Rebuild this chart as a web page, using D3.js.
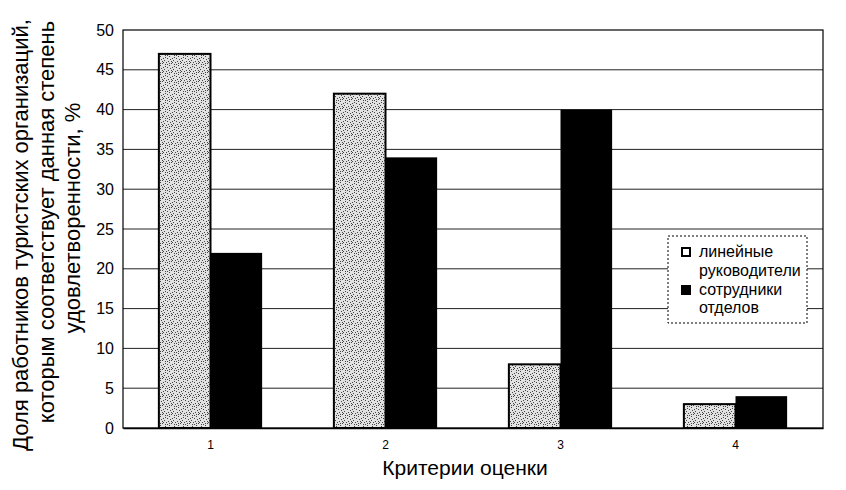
<!DOCTYPE html>
<html><head><meta charset="utf-8">
<script src="https://cdn.jsdelivr.net/npm/d3@7"></script>
<style>body{margin:0;background:#fff}svg{display:block}text{font-family:"Liberation Sans",Arial,sans-serif}</style>
</head><body>
<svg id="c" width="846" height="490"></svg>
<script>
const categories = ["1","2","3","4"];
const seriesNames = ["линейные руководители","сотрудники отделов"];
const managers = [47, 42, 8, 3];
const staff = [22, 34, 40, 4];
const yTicks = [0,5,10,15,20,25,30,35,40,45,50];
const yTitle = ["Доля работников туристских организаций,","которым соответствует данная степень","удовлетворенности, %"];
const xTitle = "Критерии оценки";

const svg = d3.select("#c");
const L=123, R=823, T=30, B=428;
const defs = svg.append("defs");
const pat = defs.append("pattern").attr("id","speck").attr("width",9).attr("height",9).attr("patternUnits","userSpaceOnUse");
pat.append("rect").attr("width",9).attr("height",9).attr("fill","#e2e2e2");
[[0,0],[3,1],[7,2],[1,4],[5,4],[2,6],[6,7],[8,5],[4,8],[0,7],[7,0],[3,3],[5,1],[1,8]].forEach(([x,y])=>pat.append("rect").attr("x",x).attr("y",y).attr("width",1).attr("height",1).attr("fill","#444"));

const x0 = d3.scaleBand().domain(categories).range([L,R]).paddingInner(0.41).paddingOuter(0.205);
const x1 = d3.scaleBand().domain([0,1]).range([0,x0.bandwidth()]);
const y = d3.scaleLinear().domain([0,50]).range([B,T]);

// gridlines
svg.append("g").selectAll("line").data(yTicks.filter(d=>d>0 && d<50)).join("line")
  .attr("x1",L).attr("x2",R).attr("y1",d=>y(d)).attr("y2",d=>y(d)).attr("stroke","#222").attr("stroke-width",1);
// frame
svg.append("rect").attr("x",L).attr("y",T).attr("width",R-L).attr("height",B-T).attr("fill","none").attr("stroke","#000").attr("stroke-width",1.2);

const g = svg.append("g");
categories.forEach((c,i)=>{
  g.append("rect").attr("x",x0(c)+x1(0)).attr("y",y(managers[i])).attr("width",x1.bandwidth()).attr("height",y(0)-y(managers[i]))
    .attr("fill","url(#speck)").attr("stroke","#000").attr("stroke-width",2);
  g.append("rect").attr("x",x0(c)+x1(1)).attr("y",y(staff[i])).attr("width",x1.bandwidth()).attr("height",y(0)-y(staff[i]))
    .attr("fill","#000");
});

// y axis
const ya = svg.append("g").attr("transform",`translate(${L},0)`).call(d3.axisLeft(y).tickValues(yTicks).tickSize(0).tickPadding(9));
ya.select(".domain").remove();
ya.selectAll("text").attr("font-size",16).attr("fill","#000");
// x axis
const xa = svg.append("g").attr("transform",`translate(0,${B})`).call(d3.axisBottom(x0).tickSize(0).tickPadding(12));
xa.select(".domain").attr("stroke","#000").attr("stroke-width",1.5);
xa.selectAll("text").attr("font-size",12).attr("fill","#000");

svg.append("text").attr("x",465).attr("y",475).attr("text-anchor","middle").attr("font-size",21).text(xTitle);
const yc = [235, 222, 218];
yTitle.forEach((t,i)=>{
  svg.append("text").attr("transform",`translate(${28+i*26},${yc[i]}) rotate(-90)`).attr("text-anchor","middle").attr("font-size",22).text(t);
});

// legend
const lg = svg.append("g");
lg.append("rect").attr("x",668).attr("y",236).attr("width",139).attr("height",87).attr("fill","#fff").attr("stroke","#000").attr("stroke-dasharray","2,2");
lg.append("rect").attr("x",682).attr("y",248).attr("width",8).attr("height",8).attr("fill","#fff").attr("stroke","#000").attr("stroke-width",2);
lg.append("rect").attr("x",681).attr("y",285).attr("width",10).attr("height",10).attr("fill","#000");
const leg = [["линейные",257],["руководители",276],["сотрудники",295],["отделов",313]];
leg.forEach(([t,yy])=>lg.append("text").attr("x",699).attr("y",yy).attr("font-size",16).text(t));
</script>
</body></html>
